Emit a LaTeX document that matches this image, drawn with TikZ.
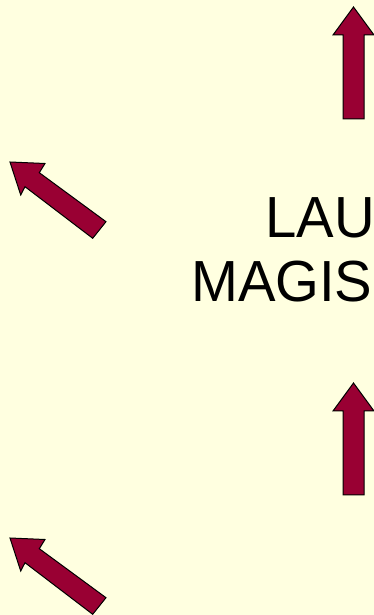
\documentclass[tikz,border=0pt]{standalone}
\usepackage{fontspec}
\setmainfont{Liberation Sans}
\definecolor{bgyellow}{HTML}{FFFFE0}
\definecolor{arrowred}{HTML}{990033}
\tikzset{
  arrowshape/.style={fill=arrowred, draw=black, line width=1pt, line join=miter},
  bigtext/.style={font=\fontsize{58}{60}\selectfont, inner sep=0pt, anchor=base west}
}
\begin{document}
\begin{tikzpicture}[x=1pt,y=1pt]
\useasboundingbox (0,0) rectangle (374,615);
\fill[bgyellow] (0,0) rectangle (374,615);
\clip (0,0) rectangle (374,615);
% up arrows
\foreach \dy in {0,376}{
  \draw[arrowshape] (343,615-119-\dy) -- (343,615-35-\dy) -- (333,615-35-\dy) -- (353.5,615-7-\dy)
    -- (374,615-35-\dy) -- (364,615-35-\dy) -- (364,615-119-\dy) -- cycle;
}
% diagonal arrows
\foreach \dy in {0,376}{
  \draw[arrowshape] (10,615-162-\dy) -- (45,615-163.5-\dy) -- (39.3,615-172.7-\dy) -- (106,615-221.7-\dy)
    -- (92.7,615-238.3-\dy) -- (25,615-186.7-\dy) -- (20.7,615-195-\dy) -- cycle;
}
\node[bigtext, xscale=0.97] (lau) at (265,615-238) {LAU};
\node[bigtext, xscale=0.97] (magis) at (191,615-301.5) {MAGIS};
\end{tikzpicture}
\end{document}
